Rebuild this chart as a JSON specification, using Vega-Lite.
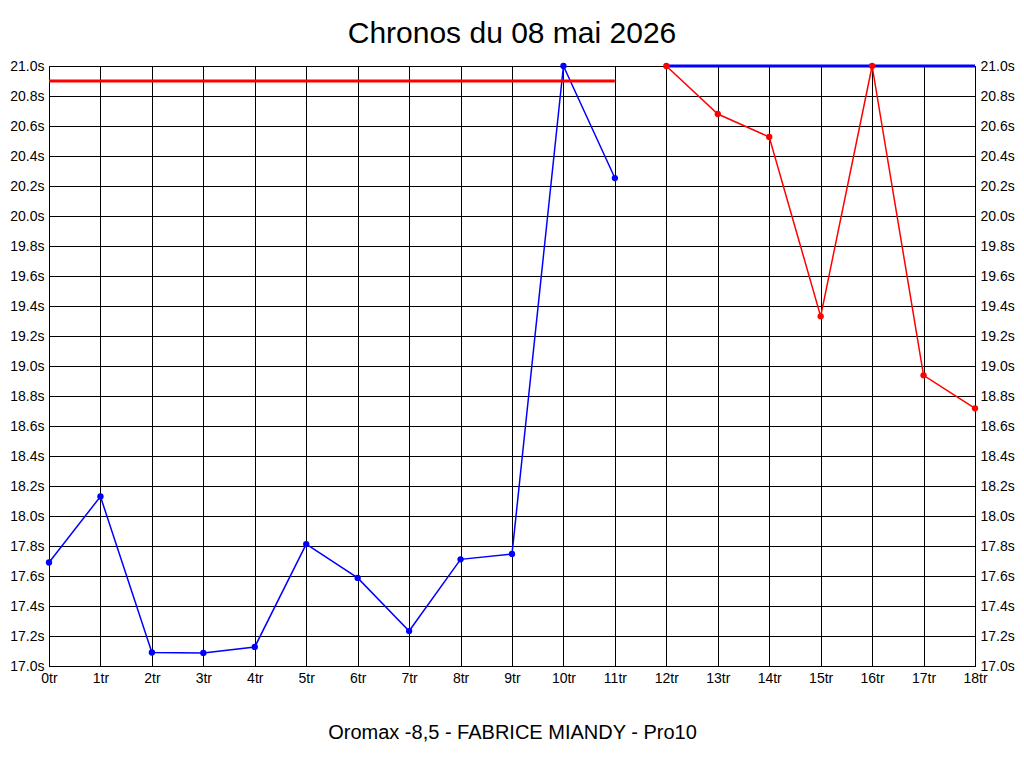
{
  "$schema": "https://vega.github.io/schema/vega-lite/v6.json",
  "width": 926,
  "height": 600,
  "autosize": {"type": "none"},
  "padding": {"left": 49, "top": 66, "right": 49, "bottom": 102},
  "background": "white",
  "title": {
    "text": "Chronos du 08 mai 2026",
    "font": "Liberation Sans",
    "fontSize": 30,
    "fontWeight": "normal",
    "color": "black",
    "offset": 10
  },
  "config": {
    "view": {"stroke": "black", "strokeWidth": 1},
    "font": "Liberation Sans",
    "axis": {
      "domainColor": "black",
      "gridColor": "black",
      "gridOpacity": 1,
      "ticks": false,
      "labelColor": "black",
      "labelFont": "Liberation Sans",
      "labelFontSize": 14,
      "labelFlush": false,
      "labelOverlap": false
    }
  },
  "data": {
    "values": [
      {"tour": 0, "temps": 17.69, "serie": "chrono1"},
      {"tour": 1, "temps": 18.13, "serie": "chrono1"},
      {"tour": 2, "temps": 17.09, "serie": "chrono1"},
      {"tour": 3, "temps": 17.087, "serie": "chrono1"},
      {"tour": 4, "temps": 17.127, "serie": "chrono1"},
      {"tour": 5, "temps": 17.813, "serie": "chrono1"},
      {"tour": 6, "temps": 17.587, "serie": "chrono1"},
      {"tour": 7, "temps": 17.233, "serie": "chrono1"},
      {"tour": 8, "temps": 17.711, "serie": "chrono1"},
      {"tour": 9, "temps": 17.747, "serie": "chrono1"},
      {"tour": 10, "temps": 21.0, "serie": "chrono1"},
      {"tour": 11, "temps": 20.253, "serie": "chrono1"},
      {"tour": 0, "temps": 20.9, "serie": "objectif1"},
      {"tour": 11, "temps": 20.9, "serie": "objectif1"},
      {"tour": 12, "temps": 21.0, "serie": "objectif2"},
      {"tour": 18, "temps": 21.0, "serie": "objectif2"},
      {"tour": 12, "temps": 21.0, "serie": "chrono2"},
      {"tour": 13, "temps": 20.68, "serie": "chrono2"},
      {"tour": 14, "temps": 20.527, "serie": "chrono2"},
      {"tour": 15, "temps": 19.331, "serie": "chrono2"},
      {"tour": 16, "temps": 21.0, "serie": "chrono2"},
      {"tour": 17, "temps": 18.938, "serie": "chrono2"},
      {"tour": 18, "temps": 18.718, "serie": "chrono2"}
    ]
  },
  "encoding": {
    "x": {
      "field": "tour",
      "type": "quantitative",
      "scale": {"domain": [0, 18], "nice": false, "zero": false},
      "axis": {
        "values": [0, 1, 2, 3, 4, 5, 6, 7, 8, 9, 10, 11, 12, 13, 14, 15, 16, 17, 18],
        "labelExpr": "datum.value + 'tr'",
        "labelPadding": 5,
        "grid": true,
        "title": "Oromax -8,5 - FABRICE MIANDY - Pro10",
        "titleFont": "Liberation Sans",
        "titleFontSize": 20,
        "titleFontWeight": "normal",
        "titleColor": "black",
        "titlePadding": 37
      }
    },
    "color": {
      "field": "serie",
      "type": "nominal",
      "scale": {
        "domain": ["chrono1", "objectif1", "objectif2", "chrono2"],
        "range": ["#0000ff", "#ff0000", "#0000ff", "#ff0000"]
      },
      "legend": null
    }
  },
  "layer": [
    {
      "transform": [{"filter": "datum.serie == 'chrono1'"}],
      "mark": {"type": "line", "strokeWidth": 1.5, "clip": false, "point": {"filled": true, "size": 40}},
      "encoding": {
        "y": {
          "field": "temps",
          "type": "quantitative",
          "scale": {"domain": [17, 21], "nice": false, "zero": false},
          "axis": {
            "orient": "left",
            "values": [17, 17.2, 17.4, 17.6, 17.8, 18, 18.2, 18.4, 18.6, 18.8, 19, 19.2, 19.4, 19.6, 19.8, 20, 20.2, 20.4, 20.6, 20.8, 21],
            "labelExpr": "format(datum.value, '.1f') + 's'",
            "labelPadding": 5,
            "grid": true,
            "title": null
          }
        }
      }
    },
    {
      "transform": [{"filter": "datum.serie == 'objectif1'"}],
      "mark": {"type": "line", "strokeWidth": 3, "clip": false},
      "encoding": {
        "y": {"field": "temps", "type": "quantitative", "axis": null}
      }
    },
    {
      "transform": [{"filter": "datum.serie == 'objectif2'"}],
      "mark": {"type": "line", "strokeWidth": 3, "clip": false},
      "encoding": {
        "y": {"field": "temps", "type": "quantitative", "axis": null}
      }
    },
    {
      "transform": [{"filter": "datum.serie == 'chrono2'"}],
      "mark": {"type": "line", "strokeWidth": 1.5, "clip": false, "point": {"filled": true, "size": 40}},
      "encoding": {
        "y": {
          "field": "temps",
          "type": "quantitative",
          "axis": {
            "orient": "right",
            "values": [17, 17.2, 17.4, 17.6, 17.8, 18, 18.2, 18.4, 18.6, 18.8, 19, 19.2, 19.4, 19.6, 19.8, 20, 20.2, 20.4, 20.6, 20.8, 21],
            "labelExpr": "format(datum.value, '.1f') + 's'",
            "labelPadding": 5,
            "grid": false,
            "title": null
          }
        }
      }
    }
  ],
  "resolve": {"axis": {"y": "independent"}}
}
